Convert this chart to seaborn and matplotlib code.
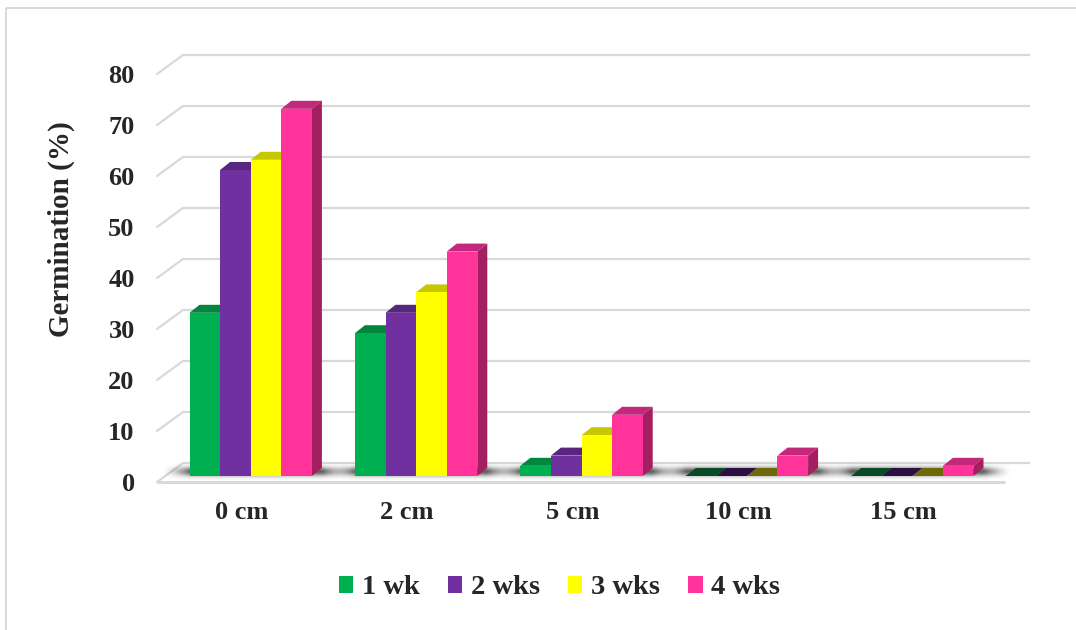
import numpy as np
import pandas as pd
import matplotlib
matplotlib.use("Agg")
import matplotlib.pyplot as plt
from matplotlib.patches import Polygon, Rectangle
from matplotlib.transforms import ScaledTranslation
import seaborn as sns

# ---- data ----
depths = ["0 cm", "2 cm", "5 cm", "10 cm", "15 cm"]
periods = ["1 wk", "2 wks", "3 wks", "4 wks"]
wk1 = [32, 28, 2, 0, 0]
wk2 = [60, 32, 4, 0, 0]
wk3 = [62, 36, 8, 0, 0]
wk4 = [72, 44, 12, 4, 2]
y_ticks = [0, 10, 20, 30, 40, 50, 60, 70, 80]

# ---- styling ----
front_colors = ["#00B050", "#7030A0", "#FFFF00", "#FF3399"]
top_colors = ["#00873D", "#58267F", "#C8C800", "#C4287C"]
side_colors = ["#006F32", "#48206A", "#A8A800", "#A31F5F"]
flat_colors = ["#0B4A27", "#2B1043", "#6C6A08", "#7A1E4E"]
grid_color = "#D9D9D9"

sns.set_style("white")
plt.rcParams["font.family"] = ["Liberation Serif", "DejaVu Serif"]
plt.rcParams["font.weight"] = "bold"
FS_TICK = 19
FS_LABEL = 21
FS_LEGEND = 20.5

W, H = 1076, 630
fig = plt.figure(figsize=(W / 100, H / 100), dpi=100)

# pixel-space backdrop (y measured from the top)
bg = fig.add_axes([0, 0, 1, 1])
bg.set_zorder(0)
bg.axis("off")

# main plotting axes: the plane of the bar front faces
ax_l, ax_r, ax_b, ax_t = 168.0, 995.0, 476.0, 42.5
ax = fig.add_axes([ax_l / W, (H - ax_b) / H, (ax_r - ax_l) / W, (ax_b - ax_t) / H])
ax.set_zorder(1)
ax.patch.set_alpha(0)

df = pd.DataFrame({
    "depth": np.repeat(depths, len(periods)),
    "period": periods * len(depths),
    "value": np.column_stack([wk1, wk2, wk3, wk4]).ravel(),
})
df["depth"] = pd.Categorical(df["depth"], categories=depths, ordered=True)
df["period"] = pd.Categorical(df["period"], categories=periods, ordered=True)

sns.barplot(data=df, x="depth", y="value", hue="period", order=depths,
            hue_order=periods, palette=front_colors, saturation=1,
            width=0.74, gap=0, linewidth=0, errorbar=None, legend=False,
            ax=ax, zorder=2)

ax.set_xlim(-0.5, 4.5)
ax.set_ylim(0, 85)
ax.set_yticks(y_ticks)
ax.set_xlabel("")
for s in ax.spines.values():
    s.set_visible(False)
ax.grid(False)

bg.set_xlim(0, W)
bg.set_ylim(H, 0)


def to_px(x, y):
    d = ax.transData.transform((x, y))
    return bg.transData.inverted().transform(d)


DX, DY = 10.0, -8.0      # bar depth offset (pixels)
BACK_DX, BACK_DY = 15.0, -13.0
FRONT_DX, FRONT_DY = -11.0, 6.0

# back wall gridlines and their side-wall diagonals
x_start = to_px(-0.5, 0)[0]
x_end = to_px(4.5, 0)[0]
for v in y_ticks:
    yb = to_px(0, v)[1] + BACK_DY
    yf = to_px(0, v)[1] + FRONT_DY
    xb0 = x_start + BACK_DX
    xf0 = x_start + FRONT_DX
    bg.plot([xb0, x_end + 35], [yb, yb], color=grid_color, lw=1.6,
            solid_capstyle="butt", zorder=1)
    bg.plot([xf0, xb0], [yf, yb], color=grid_color, lw=1.6, zorder=1)
# front edge of the floor
y0f = to_px(0, 0)[1] + FRONT_DY
bg.plot([x_start + FRONT_DX, x_end + 10], [y0f, y0f], color=grid_color,
        lw=2.2, solid_capstyle="butt", zorder=1)

# soft floor shadows under each cluster
for j in range(len(depths)):
    bars = [ax.containers[i][j] for i in range(len(periods))]
    gl = to_px(bars[0].get_x(), 0)[0]
    gr = to_px(bars[-1].get_x() + bars[-1].get_width(), 0)[0]
    sx0, sx1 = gl - 28, gr + DX + 28
    sy0, sy1 = to_px(0, 0)[1] - 13, to_px(0, 0)[1] + 4
    nx, ny = 200, 40
    xs = np.linspace(sx0, sx1, nx)
    ys = np.linspace(sy0, sy1, ny)
    hx = np.clip(np.minimum((xs - sx0) / 28.0, (sx1 - xs) / 28.0), 0, 1) ** 1.5
    vy = np.exp(-0.5 * ((ys - (sy0 + sy1) / 2) / 3.2) ** 2)
    alpha = np.outer(vy, hx) * 0.8
    img = np.zeros((ny, nx, 4))
    img[..., :3] = 0.22
    img[..., 3] = alpha
    bg.imshow(img, extent=(sx0, sx1, sy1, sy0), aspect="auto",
              interpolation="bilinear", zorder=2)

bg.set_xlim(0, W)
bg.set_ylim(H, 0)

# chart border
bg.add_patch(Rectangle((6, 8), 1200, 800, fill=False, edgecolor=grid_color,
                       lw=1.4, zorder=3))

# top and side faces of each column
for i, cont in enumerate(ax.containers):
    for bar in cont:
        x0 = bar.get_x()
        x1 = x0 + bar.get_width()
        h = bar.get_height()
        xl, yt = to_px(x0, h)
        xr, yb = to_px(x1, 0)
        flat = h <= 0
        top = [(xl, yt), (xr, yt), (xr + DX, yt + DY), (xl + DX, yt + DY)]
        ax.add_patch(Polygon(top, closed=True,
                             facecolor=flat_colors[i] if flat else top_colors[i],
                             edgecolor="none", transform=bg.transData,
                             clip_on=False, zorder=1.5))
        if not flat:
            side = [(xr, yt), (xr + DX, yt + DY), (xr + DX, yb + DY), (xr, yb)]
            ax.add_patch(Polygon(side, closed=True, facecolor=side_colors[i],
                                 edgecolor="none", transform=bg.transData,
                                 clip_on=False, zorder=1.5))

# tick labels sit on the front plane
ax.tick_params(axis="y", length=0, pad=24, labelsize=FS_TICK)
ax.tick_params(axis="x", length=0, pad=18, labelsize=FS_TICK)
for lab in ax.get_yticklabels():
    lab.set_fontweight("bold")
    lab.set_transform(lab.get_transform() +
                      ScaledTranslation(0, -FRONT_DY / 100, fig.dpi_scale_trans))
for lab in ax.get_xticklabels():
    lab.set_fontweight("bold")
    lab.set_transform(lab.get_transform() +
                      ScaledTranslation(-9 / 100, 0, fig.dpi_scale_trans))

ax.set_ylabel("Germination (%)", fontsize=FS_LABEL, fontweight="bold")
ax.yaxis.set_label_coords((75 - ax_l) / (ax_r - ax_l), (ax_b - 229) / (ax_b - ax_t))

handles = [Rectangle((0, 0), 1, 1, facecolor=c, edgecolor="none") for c in front_colors]
ax.legend(handles, periods, loc="center", bbox_to_anchor=(559.5 / W, (H - 588) / H),
          bbox_transform=fig.transFigure, ncol=4, frameon=False,
          handlelength=0.5, handleheight=0.5, handletextpad=0.3,
          columnspacing=1.0, prop={"weight": "bold", "size": FS_LEGEND})

fig.savefig("out.png", dpi=100, facecolor="white")
